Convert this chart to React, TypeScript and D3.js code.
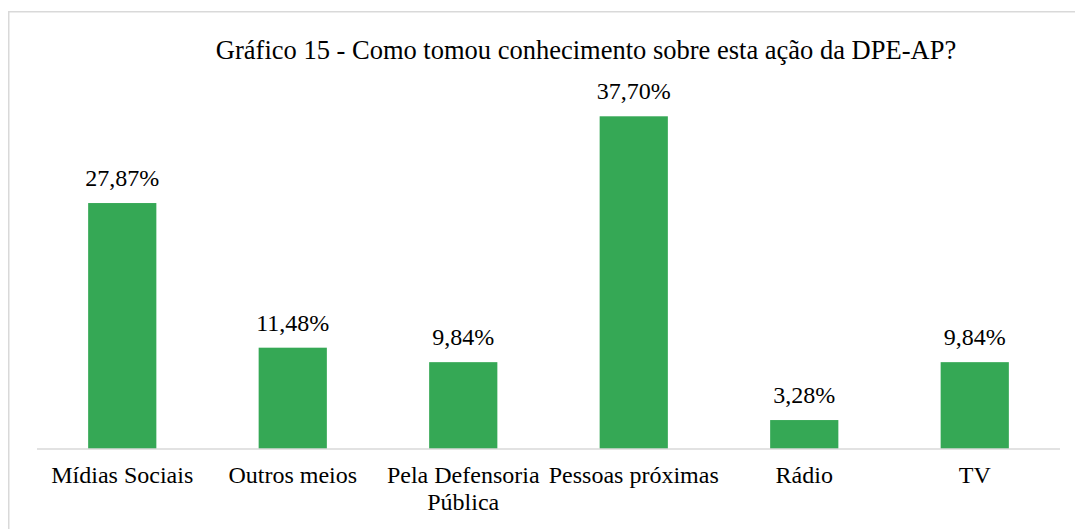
import React from 'react';
import * as d3 from 'd3';

const categories = ['Mídias Sociais', 'Outros meios', 'Pela Defensoria Pública', 'Pessoas próximas', 'Rádio', 'TV'];
const values = [27.87, 11.48, 9.84, 37.7, 3.28, 9.84];
const valueLabels = ['27,87%', '11,48%', '9,84%', '37,70%', '3,28%', '9,84%'];
const labelLines: string[][] = [['Mídias Sociais'], ['Outros meios'], ['Pela Defensoria', 'Pública'], ['Pessoas próximas'], ['Rádio'], ['TV']];
const title = 'Gráfico 15 - Como tomou conhecimento sobre esta ação da DPE-AP?';

export default function App() {
  const width = 1075;
  const height = 529;
  const textStyle = { fontFamily: "'Liberation Serif'", fontSize: '24px' };
  const titleStyle = { fontFamily: "'Liberation Serif'", fontSize: '26.5px' };

  const x = d3.scaleBand<string>()
    .domain(categories)
    .range([37, 1060])
    .paddingInner(0.6)
    .paddingOuter(0.3);

  const y = d3.scaleLinear()
    .domain([0, 40])
    .range([449, 96]);

  const cx = (c: string) => (x(c) ?? 0) + x.bandwidth() / 2;

  return (
    <svg width={width} height={height} style={{ position: 'absolute', left: 0, top: 0 }}>
      <rect x={8.75} y={11.75} width={1100} height={600} fill="#fff" stroke="#d9d9d9" strokeWidth={1.5} />
      <text x={586} y={59} textAnchor="middle" style={titleStyle} fill="#000">{title}</text>
      {categories.map((c, i) => (
        <rect key={c} x={x(c)} y={y(values[i])} width={x.bandwidth()} height={y(0) - y(values[i])} fill="#35a855" />
      ))}
      <line x1={37} x2={1060} y1={449} y2={449} stroke="#d9d9d9" strokeWidth={1.5} />
      {categories.map((c, i) => (
        <text key={c} x={cx(c)} y={y(values[i]) - 17} textAnchor="middle" style={textStyle} fill="#000">
          {valueLabels[i]}
        </text>
      ))}
      {categories.map((c, i) => (
        <text key={c} x={cx(c)} y={483} textAnchor="middle" style={textStyle} fill="#000">
          {labelLines[i].map((l, j) => (
            <tspan key={j} x={cx(c)} dy={j === 0 ? 0 : 27}>{l}</tspan>
          ))}
        </text>
      ))}
    </svg>
  );
}
